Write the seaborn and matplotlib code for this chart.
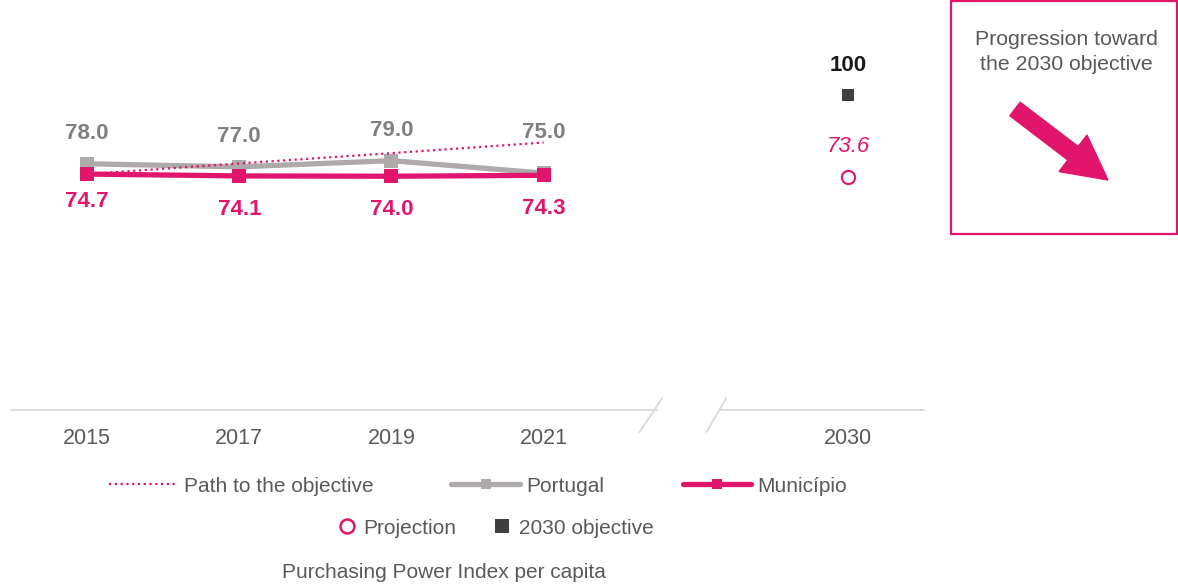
import matplotlib
matplotlib.use('Agg')
import matplotlib.pyplot as plt
import seaborn as sns
import pandas as pd
from matplotlib.lines import Line2D
from matplotlib.patches import Rectangle, FancyArrow

# ---------------- data ----------------
years = ['2015', '2017', '2019', '2021']
target_year = '2030'
portugal = [78.0, 77.0, 79.0, 75.0]
municipio = [74.7, 74.1, 74.0, 74.3]
path_to_objective = [74.7, 78.1, 81.4, 84.8]
projection_2030 = 73.6
objective_2030 = 100
legend_labels = ['Path to the objective', 'Portugal', 'Município', 'Projection', '2030 objective']
chart_title = 'Purchasing Power Index per capita'
box_text = 'Progression toward\nthe 2030 objective'

# ---------------- style ----------------
PINK = '#E0156B'
GREY = '#AEAAAA'
GREY_TXT = '#7F7F7F'
TXT = '#595959'
DARK = '#404040'

sns.set_theme(style='white')
plt.rcParams['font.family'] = ['Liberation Sans', 'DejaVu Sans']

W, H = 1178, 587
fig = plt.figure(figsize=(W / 100, H / 100), dpi=100)
ax = fig.add_axes([11 / W, 1 - 410 / H, 913 / W, 410 / H])

hist_x = list(range(len(years)))
target_x = len(years) + 1
df = pd.DataFrame({'x': hist_x, 'Portugal': portugal, 'Municipio': municipio,
                   'Path': path_to_objective})

sns.lineplot(data=df, x='x', y='Portugal', ax=ax, color=GREY, lw=3.8, marker='s',
             markersize=9.5, markeredgewidth=0, zorder=3)
sns.lineplot(data=df, x='x', y='Path', ax=ax, color=PINK, lw=1.6, ls=(0, (1, 1.6)), zorder=4)
sns.lineplot(data=df, x='x', y='Municipio', ax=ax, color=PINK, lw=3.8, marker='s',
             markersize=10.5, markeredgewidth=0, zorder=5)
sns.scatterplot(x=[target_x], y=[objective_2030], ax=ax, marker='s', color=DARK, s=75,
                linewidth=0, zorder=5)
sns.scatterplot(x=[target_x], y=[projection_2030], ax=ax, marker='o', facecolor='white',
                edgecolor=PINK, s=90, linewidth=1.5, zorder=5)

# value labels
LBL = 16
pt_off = [22, 22, 22, 29]
for xi, v, o in zip(hist_x, portugal, pt_off):
    ax.annotate(f'{v:.1f}', (xi, v), xytext=(0, o), textcoords='offset points',
                ha='center', va='center', fontsize=LBL, fontweight='bold', color=GREY_TXT)
mu_off = [-20, -24, -24, -24]
for xi, v, o in zip(hist_x, municipio, mu_off):
    ax.annotate(f'{v:.1f}', (xi, v), xytext=(0, o), textcoords='offset points',
                ha='center', va='center', fontsize=LBL, fontweight='bold', color=PINK)
ax.annotate(f'{objective_2030:d}', (target_x, objective_2030), xytext=(0, 21),
            textcoords='offset points', ha='center', va='center', fontsize=LBL,
            fontweight='bold', color='#1A1A1A')
ax.annotate(f'{projection_2030:.1f}', (target_x, projection_2030), xytext=(0, 22),
            textcoords='offset points', ha='center', va='center', fontsize=LBL,
            fontstyle='italic', color=PINK)

ax.set_xlim(-0.5, 5.5)
ax.set_ylim(-0.94, 130.5)
ax.set_xticks(hist_x + [target_x])
ax.set_xticklabels(years + [target_year], fontsize=15.5, color=TXT)
ax.set_yticks([])
ax.tick_params(axis='x', length=0, pad=13)
ax.set_xlabel('')
ax.set_ylabel('')
for s in ax.spines.values():
    s.set_visible(False)

# broken axis line
tr = ax.get_xaxis_transform()
AX_C = '#D9D9D9'
ax.plot([-0.5, 3.745], [0, 0], transform=tr, color=AX_C, lw=1.3, clip_on=False)
ax.plot([4.16, 5.5], [0, 0], transform=tr, color=AX_C, lw=1.3, clip_on=False)
ax.plot([3.63, 3.78], [-0.054, 0.029], transform=tr, color=AX_C, lw=1.3, clip_on=False)
ax.plot([4.07, 4.20], [-0.054, 0.029], transform=tr, color=AX_C, lw=1.3, clip_on=False)

# legends
h1 = [Line2D([], [], color=PINK, lw=1.6, ls=(0, (1, 1.6))),
      Line2D([], [], color=GREY, lw=3.8, marker='s', markersize=6.5, markeredgewidth=0),
      Line2D([], [], color=PINK, lw=3.8, marker='s', markersize=7.5, markeredgewidth=0)]
leg1 = fig.legend(h1, legend_labels[:3], loc='center', bbox_to_anchor=(478 / W, 1 - 486 / H),
                  ncol=3, frameon=False, fontsize=15, handlelength=3.3, handletextpad=0.3,
                  columnspacing=3.75, labelcolor=TXT)
h2 = [Line2D([], [], ls='none', marker='o', markersize=10, markerfacecolor='white',
             markeredgecolor=PINK, markeredgewidth=1.8),
      Line2D([], [], ls='none', marker='s', markersize=10, color=DARK, markeredgewidth=0)]
leg2 = fig.legend(h2, legend_labels[3:], loc='center', bbox_to_anchor=(496 / W, 1 - 528 / H),
                  ncol=2, frameon=False, fontsize=15, handlelength=0.8, handletextpad=0.4,
                  columnspacing=1.8, labelcolor=TXT)

fig.text(444 / W, 1 - 573 / H, chart_title, ha='center', va='center', fontsize=15, color=TXT)

# side box
fig.patches.append(Rectangle((951 / W, 1 - 234 / H), 226 / W, 233 / H, transform=fig.transFigure,
                             fill=False, edgecolor=PINK, lw=1.6))
fig.text(1066 / W, 1 - 52 / H, box_text, ha='center', va='center', fontsize=15.3, color=TXT,
         linespacing=1.4)
arr = FancyArrow(10.15, (H - 109) / 100, 0.93, -0.71, width=0.17, head_width=0.46,
                 head_length=0.44, length_includes_head=True, color=PINK,
                 transform=fig.dpi_scale_trans)
fig.patches.append(arr)

fig.savefig('out.png', dpi=100)
